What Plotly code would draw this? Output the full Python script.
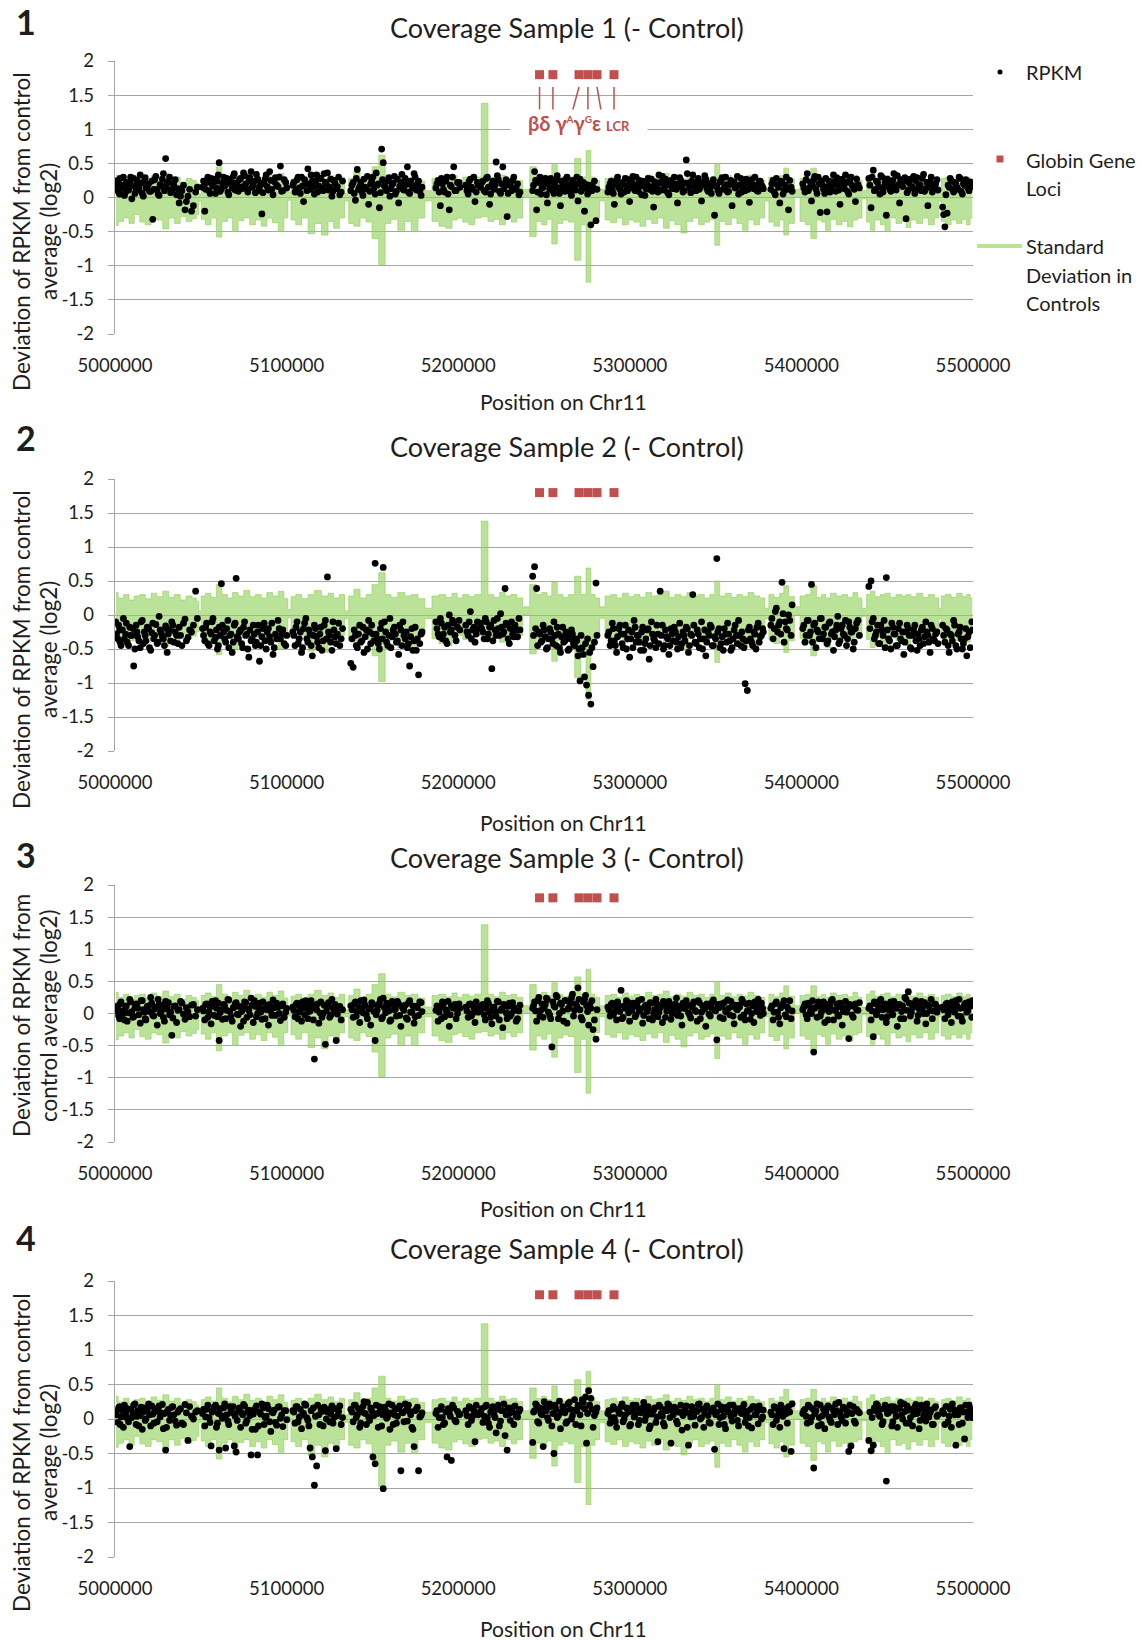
import plotly.graph_objects as go

W, H = 1144, 1641
FONT = "Lato"
TXT = "#1e1e1e"
GRID = "#A6A6A6"
RED = "#C0504D"
GREEN = "rgba(146,208,90,0.62)"

# ---------------- axis / text content ----------------
x_ticks = [5000000, 5100000, 5200000, 5300000, 5400000, 5500000]
x_tick_text = ["5000000", "5100000", "5200000", "5300000", "5400000", "5500000"]
y_ticks = [2, 1.5, 1, 0.5, 0, -0.5, -1, -1.5, -2]
y_tick_text = ["2", "1.5", "1", "0.5", "0", "-0.5", "-1", "-1.5", "-2"]
panel_numbers = ["1", "2", "3", "4"]
panel_titles = ["Coverage Sample 1 (- Control)", "Coverage Sample 2 (- Control)",
                "Coverage Sample 3 (- Control)", "Coverage Sample 4 (- Control)"]
y_title_lines = [("Deviation of RPKM from control", "average (log2)"),
                 ("Deviation of RPKM from control", "average (log2)"),
                 ("Deviation of RPKM from", "control average (log2)"),
                 ("Deviation of RPKM from control", "average (log2)")]
x_title = "Position on Chr11"

CHR_START = 5000000  # positions below are kb offsets from this coordinate

# ---------------- RPKM bins, set A: positions (kb offset), one row per captured block ----------------
pos_kb = [
    [0.4, 1.6, 2.7, 3.5, 4.9, 6.2, 7.1, 8.6, 9.8, 10.9, 12.3, 13.2, 14.7, 15.9, 17.1, 18.0, 19.6, 20.8, 22.0, 23.1,
     24.6, 25.7, 27.0, 28.2, 29.5, 30.4, 31.8, 33.1, 34.3, 35.9, 37.4, 39.0, 40.8, 42.5, 44.6, 47.0],
    [51.0, 52.3, 53.4, 54.8, 56.0, 57.1, 58.6, 59.7, 60.7, 62.0, 63.3, 64.5, 65.8, 66.9, 68.3, 69.5, 70.6, 71.9, 73.2, 74.4,
     75.5, 76.9, 78.0, 79.3, 80.6, 81.8, 83.1, 84.2, 85.6, 86.9, 88.1, 89.4, 90.8, 92.1, 93.5, 95.0, 96.4, 97.8, 99.5],
    [103.6, 104.9, 106.1, 107.4, 108.7, 109.9, 111.2, 112.4, 113.7, 115.0, 116.2, 117.5, 118.8, 120.0, 121.3, 122.6,
     123.8, 125.1, 126.4, 127.6, 128.9, 130.3, 131.8],
    [137.4, 138.8, 140.1, 141.2, 142.6, 143.9, 145.1, 146.5, 147.8, 149.0, 150.3, 151.6, 152.8, 154.1, 155.4, 156.3,
     157.7, 159.0, 160.2, 161.5, 162.8, 164.0, 165.3, 166.6, 167.8, 169.1, 170.4, 171.7, 173.0, 174.3, 175.6, 176.9, 178.4],
    [187.0, 188.3, 189.6, 190.8, 192.1, 193.5, 194.8, 196.0, 197.4, 198.8, 200.5],
    [204.4, 205.8, 207.1, 208.4, 209.8, 211.2],
    [213.1, 214.4, 215.8, 217.0, 218.3, 219.6, 220.9, 222.1, 223.4, 224.7, 226.0, 227.3, 228.5, 229.8, 231.1, 232.4,
     233.8, 235.4],
    [243.4, 244.5, 245.7, 247.0, 248.2, 249.5, 250.8, 252.0, 253.3, 254.6, 255.8, 257.1, 258.4, 259.6, 260.9, 262.2,
     263.4, 264.7, 266.0, 267.2, 268.5, 269.8, 271.0, 272.3, 273.6, 274.8, 276.0, 277.3, 278.6, 280.3],
    [287.2, 288.5, 289.8, 291.0, 292.3, 293.6, 294.9, 296.1, 297.4, 298.7, 299.9, 301.2, 302.5, 303.7, 305.0, 306.3,
     307.5, 308.8, 310.1, 311.3, 312.6, 313.9, 315.2, 316.4, 317.7, 319.0, 320.2, 321.5, 322.8, 324.0, 325.3, 326.6,
     327.8, 329.1, 330.4, 331.6, 332.9, 334.2, 335.5, 336.7, 338.0, 339.3, 340.5, 341.8, 343.1, 344.3, 345.6, 346.9,
     348.1, 349.4, 350.7, 352.0, 353.2, 354.5, 355.8, 357.0, 358.3, 359.6, 360.8, 362.1, 363.4, 364.7, 365.9, 367.2,
     368.5, 369.7, 371.0, 372.3, 373.5, 374.8, 376.1, 377.4],
    [382.2, 383.5, 384.8, 386.1, 387.4, 388.7, 389.9, 391.2, 392.5, 394.0],
    [400.8, 402.1, 403.4, 404.7, 405.9, 407.2, 408.5, 409.8, 411.0, 412.3, 413.6, 414.9, 416.1, 417.4, 418.7, 420.0,
     421.2, 422.5, 423.8, 425.1, 426.3, 427.6, 428.9, 430.2, 431.5, 433.0],
    [439.3, 440.6, 441.9, 443.1, 444.4, 445.7, 447.0, 448.2, 449.5, 450.8, 452.1, 453.3, 454.6, 455.9, 457.2, 458.4,
     459.7, 461.0, 462.3, 463.5, 464.8, 466.1, 467.4, 468.6, 469.9, 471.2, 472.5, 473.7, 475.0, 476.3, 477.6, 479.0],
    [482.3, 483.6, 484.9, 486.1, 487.4, 488.7, 490.0, 491.3, 492.5, 493.8, 495.1, 496.4, 497.7, 499.3],
]
# ---------------- RPKM bins, set B (bins lying between those of set A) ----------------
pos_kb_b = [
    [0.9, 2.1, 3.0, 4.3, 5.5, 6.6, 7.9, 9.1, 10.4, 11.6, 12.8, 13.9, 15.2, 16.5, 17.6, 18.8, 20.1, 21.4, 22.6, 23.8,
     25.1, 26.3, 27.6, 28.8, 30.0, 31.1, 32.4, 33.7, 35.1, 36.6, 38.2, 39.9, 41.6, 43.5, 45.7, 48.0],
    [51.6, 52.8, 54.1, 55.4, 56.6, 57.8, 59.1, 60.2, 61.3, 62.6, 63.9, 65.1, 66.3, 67.6, 68.9, 70.0, 71.2, 72.5, 73.8,
     74.9, 76.2, 77.4, 78.6, 79.9, 81.2, 82.4, 83.6, 84.9, 86.2, 87.5, 88.7, 90.1, 91.4, 92.8, 94.2, 95.7, 97.1, 98.6, 100.1],
    [104.2, 105.5, 106.7, 108.0, 109.3, 110.5, 111.8, 113.0, 114.3, 115.6, 116.8, 118.1, 119.4, 120.6, 121.9, 123.2,
     124.4, 125.7, 127.0, 128.2, 129.6, 131.0, 132.6],
    [138.1, 139.4, 140.6, 141.9, 143.2, 144.5, 145.8, 147.1, 148.4, 149.6, 150.9, 152.2, 153.4, 154.7, 155.9, 157.0,
     158.3, 159.6, 160.8, 162.1, 163.4, 164.6, 165.9, 167.2, 168.4, 169.7, 171.0, 172.3, 173.6, 174.9, 176.2, 177.6, 178.9],
    [187.6, 188.9, 190.2, 191.4, 192.8, 194.1, 195.4, 196.7, 198.1, 199.6, 201.0],
    [205.1, 206.4, 207.7, 209.1, 210.5, 211.6],
    [213.7, 215.1, 216.4, 217.6, 218.9, 220.2, 221.5, 222.8, 224.0, 225.3, 226.6, 227.9, 229.1, 230.4, 231.7, 233.1,
     234.6, 236.0],
    [243.9, 245.1, 246.3, 247.6, 248.8, 250.1, 251.4, 252.6, 253.9, 255.2, 256.4, 257.7, 259.0, 260.2, 261.5, 262.8,
     264.0, 265.3, 266.6, 267.8, 269.1, 270.4, 271.6, 272.9, 274.2, 275.4, 276.6, 277.9, 279.4, 280.9],
    [287.8, 289.1, 290.4, 291.6, 292.9, 294.2, 295.5, 296.7, 298.0, 299.3, 300.5, 301.8, 303.1, 304.3, 305.6, 306.9,
     308.1, 309.4, 310.7, 311.9, 313.2, 314.5, 315.8, 317.0, 318.3, 319.6, 320.8, 322.1, 323.4, 324.6, 325.9, 327.2,
     328.4, 329.7, 331.0, 332.2, 333.5, 334.8, 336.1, 337.3, 338.6, 339.9, 341.1, 342.4, 343.7, 344.9, 346.2, 347.5,
     348.7, 350.0, 351.3, 352.6, 353.8, 355.1, 356.4, 357.6, 358.9, 360.2, 361.4, 362.7, 364.0, 365.3, 366.5, 367.8,
     369.1, 370.3, 371.6, 372.9, 374.1, 375.4, 376.7, 377.8],
    [382.8, 384.1, 385.4, 386.7, 388.0, 389.3, 390.6, 391.8, 393.2, 394.6],
    [401.4, 402.7, 404.0, 405.3, 406.5, 407.8, 409.1, 410.4, 411.6, 412.9, 414.2, 415.5, 416.7, 418.0, 419.3, 420.6,
     421.8, 423.1, 424.4, 425.7, 426.9, 428.2, 429.5, 430.8, 432.2, 433.8],
    [439.9, 441.2, 442.5, 443.7, 445.0, 446.3, 447.6, 448.8, 450.1, 451.4, 452.7, 453.9, 455.2, 456.5, 457.8, 459.0,
     460.3, 461.6, 462.9, 464.1, 465.4, 466.7, 468.0, 469.2, 470.5, 471.8, 473.1, 474.3, 475.6, 476.9, 478.2, 479.6],
    [482.9, 484.2, 485.5, 486.7, 488.0, 489.3, 490.6, 491.9, 493.1, 494.4, 495.7, 497.0, 498.4, 499.7],
]

# deviation values, in hundredths of log2, same block layout as the position lists
rpkm_s1 = [
    [12, 25, 5, 18, 30, 8, 15, 22, -2, 28, 10, 19, 33, 6, 24, 14, 20, 9, -32, 26, 12, 3, 17, 35, 57, 22, 30, 11, 18, 4,
     -8, 10, -18, 2, -20, 8],
    [15, -20, 22, 10, 28, 17, 6, 24, 51, 13, 30, 19, 8, 26, 14, 35, 21, 9, 28, 16, 32, 12, 24, 38, 18, 7, 27, 15, -24, 20,
     33, 11, 25, 4, 29, 16, 46, 10, 22],
    [18, 8, 26, 14, 30, -6, 20, 42, 12, 24, 5, 33, 17, 28, 10, 22, 36, 15, 2, 25, 13, 30, 8],
    [10, 22, -4, 41, 16, 8, 27, 13, -10, 20, 30, 5, 18, -15, 71, 51, 14, 24, 2, 19, 31, 9, -8, 22, 12, 28, 45, 6, 17, 35,
     11, 24, 3],
    [14, 25, -12, 20, 8, 30, -18, 16, 45, 10, 22],
    [18, 5, 27, 12, -6, 22],
    [15, 24, 8, 30, -10, 19, 12, 52, 26, 6, 45, 17, -28, 22, 10, 30, 14, 4],
    [10, 38, -18, 22, 5, 15, 28, -8, 12, 20, 6, 25, 14, -12, 18, 9, 30, 16, 3, 22, 11, -5, 27, 13, -20, 19, 8, -40, 15, -34],
    [8, 20, 12, -10, 25, 15, 5, 18, 28, 10, -6, 22, 14, 30, 9, 17, 24, 3, 19, 12, 27, -14, 16, 8, 22, 31, 11, 18, 4, 25,
     13, 20, -8, 29, 15, 10, 55, 21, 7, 33, 16, 24, 12, -5, 19, 27, 9, 14, 22, -26, 17, 6, 25, 12, 30, 8, 19, -12, 23, 14,
     5, 28, 16, 10, 21, -7, 26, 13, 18, 9, 24, 15],
    [12, 25, 4, 18, -8, 22, 10, 30, -18, 15],
    [20, 8, 35, 14, -5, 26, 12, 30, -22, 18, 6, -21, 24, 15, 33, 9, 20, -10, 27, 13, 22, 5, 30, 16, -6, 19],
    [28, -15, 40, 12, 22, 5, 30, 16, -26, 20, 9, 25, 14, 32, -8, 18, 24, -31, 11, 27, 15, 6, 29, 19, 10, 34, 13, -12, 23, 8,
     17, 26],
    [-14, -43, -23, 15, 25, 8, 20, 12, 28, 5, 18, 24, 10, 16],
]
rpkm_s1_b = [
    [20, 8, 28, 14, 3, 22, 11, 30, 17, 6, 25, 13, 21, 2, 29, 16, 9, 24, 12, 31, 5, 19, 27, 10, 15, 23, 7, 20, 26, 13,
     2, 18, -6, 12, -12, 15],
    [24, 12, 30, 6, 19, 27, 14, 33, 9, 21, 17, 28, 4, 22, 31, 11, 18, 26, 13, 36, 20, 8, 29, 15, 24, 34, 10, 21, 7, 27,
     16, 38, 12, 23, 18, 30, 9, 26, 14],
    [22, 12, 30, 6, 17, 26, 10, 20, 33, 15, 24, 8, 28, 14, 35, 19, 11, 27, 9, 21, 16, 4, 24],
    [18, 6, 28, 12, 22, 3, 15, 31, 9, 24, 14, 36, 20, 7, 26, 17, 10, 29, 13, 21, 5, 27, 16, 34, 11, 19, 8, 24, 14, 30,
     20, 9, 15],
    [20, 8, 28, 12, 24, 5, 18, 30, 10, 22, 15],
    [10, 24, 15, 30, 8, 18],
    [22, 10, 28, 15, 5, 24, 18, 32, 9, 20, 13, 26, 6, 18, 25, 12, 20, 8],
    [18, 25, 8, 30, 14, 22, 4, 20, 28, 10, 17, 32, 6, 24, 12, 27, 19, 8, 25, 15, 30, 20, 9, 22, 14, 5, 18, 10, 24, 12],
    [15, 24, 6, 20, 30, 12, 22, 8, 17, 26, 14, 31, 10, 19, 25, 4, 21, 13, 28, 16, 9, 23, 18, 33, 11, 20, 27, 7, 22, 15,
     30, 12, 19, 25, 8, 21, 35, 14, 24, 18, 10, 28, 16, 22, 32, 13, 20, 6, 26, 17, 11, 23, 29, 15, 19, 9, 25, 20, 14, 31,
     18, 8, 22, 27, 12, 20, 16, 30, 10, 24, 18, 13],
    [20, 8, 28, 15, 24, 5, 18, 12, 25, 9],
    [14, 26, 10, 22, 18, 31, 6, 20, 24, 12, 28, 16, 8, 23, 19, 29, 11, 21, 15, 33, 9, 25, 18, 12, 27, 14],
    [18, 30, 10, 24, 15, 32, 8, 22, 27, 13, 20, 35, 11, 19, 26, 16, 29, 7, 21, 14, 31, 24, 12, 18, 28, 9, 22, 16, 30, 13,
     20, 11],
    [-25, 4, 18, 28, 12, 22, 15, 30, 9, 20, 26, 14, 23, 17],
]
rpkm_s2 = [
    [-10, -35, -22, -45, -5, -28, -40, -18, -30, -75, -15, -32, -48, -8, -25, -38, -20, -52, -12, -30, -42, -2, -27, -35,
     -16, -55, -22, -10, -40, -30, -18, -45, -6, -33, -25, 35],
    [-20, -38, -12, -45, -28, -5, -33, -50, -18, 46, -25, -40, -8, -30, -55, -15, 54, -35, -22, -48, -10, -28, -62, -38,
     -15, -45, -25, -68, -32, -12, -50, -20, -40, -58, -28, -8, -35, -22, -45],
    [-25, -45, -10, -35, -55, -20, -5, -40, -28, -60, -15, -32, -48, -18, -38, -8, 56, -30, -52, -22, -42, -12, -35],
    [-71, -77, -30, -48, -15, -38, -55, -22, -8, -42, -28, 76, -35, -50, -12, 70, -25, -45, -5, -32, -18, -40, -58, -22,
     -10, -35, -48, -75, -20, -38, -52, -88, -28],
    [-10, -28, -5, -35, -18, -42, 0, -22, -12, -38, -8],
    [-15, -30, 5, -22, -40, -10],
    [-12, -25, -5, -35, -18, -79, -8, -30, -20, 2, -28, 39, -15, -42, -10, -32, -22, -5],
    [57, 71, 39, -25, -40, -15, -32, -48, -20, -35, -10, -45, -28, -55, -18, -38, -30, -50, -22, -42, -35, -60, -97, -48,
     -91, -103, -118, -131, -76, 47],
    [-30, -45, -12, -38, -55, -20, -28, -48, -15, -35, -62, -25, -8, -40, -30, -52, -18, -42, -22, -65, -10, -35, -48, -28,
     35, -15, -45, -32, -58, -20, -38, -25, -50, -12, -42, -30, -18, -55, -28, 30, -40, -22, -48, -10, -35, -60, -25, -15,
     -45, -32, 83, -20, -42, -52, -28, -12, -38, -48, -22, -30, -8, -45, -35, -101, -111, -18, -40, -25, -50, -12, -32, -20],
    [-15, -35, 5, -25, -10, 48, -40, -20, 0, -30],
    [-20, -40, -8, -30, 45, -15, -48, -25, -5, -35, -18, -42, -12, -28, -52, -22, -2, -38, -15, -30, -45, -10, -25, -50,
     -20, -8],
    [42, 50, -5, -30, -15, -42, -22, -8, 55, -35, -50, -18, -28, -45, -12, -38, -58, -25, -20, -48, -30, -15, -52, -35,
     -22, -42, -10, -30, -55, -20, -38, -25],
    [-15, -40, -22, -55, -30, -8, -45, -28, -18, -50, -35, -60, -25, -10],
]
rpkm_s2_b = [
    [-28, -15, -40, -22, -35, -12, -45, -30, -20, -50, -25, -38, -10, -42, -30, -18, -48, -26, -35, -14, -40, -22, -32,
     -45, -20, -28, -38, -15, -25, -42, -30, -12, -38, -22, -15, -5],
    [-30, -18, -42, -25, -10, -38, -22, -45, -30, -15, -35, -20, -48, -28, -40, -12, -32, -25, -42, -18, -30, -50, -22,
     -35, -28, -40, -15, -45, -20, -38, -25, -32, -12, -48, -35, -20, -28, -42, -30],
    [-30, -18, -42, -25, -48, -12, -35, -22, -45, -30, -20, -40, -28, -52, -15, -35, -25, -40, -10, -32, -28, -45, -20],
    [-35, -22, -45, -28, -40, -18, -32, -50, -25, -15, -38, -28, -42, -20, -35, -10, -40, -30, -48, -22, -28, -38, -15,
     -45, -30, -25, -42, -32, -52, -18, -35, -42, -25],
    [-20, -32, -12, -28, -38, -15, -25, -8, -30, -18, -22],
    [-25, -10, -35, -18, -28, -20],
    [-20, -35, -10, -28, -15, -38, -22, -5, -30, -18, -25, -12, -35, -20, -28, -15, -32, -22],
    [-30, -20, -45, -28, -38, -22, -50, -35, -25, -42, -30, -18, -48, -32, -40, -25, -52, -35, -28, -45, -38, -50, -30,
     -58, -42, -35, -55, -48, -40, -30],
    [-25, -38, -20, -45, -32, -15, -42, -28, -50, -22, -35, -48, -18, -30, -40, -25, -52, -35, -20, -45, -28, -38, -15,
     -42, -30, -50, -22, -35, -45, -28, -18, -40, -32, -48, -25, -38, -20, -45, -30, -15, -42, -28, -35, -50, -22, -40,
     -30, -18, -45, -35, -25, -48, -32, -20, -40, -28, -52, -35, -15, -42, -30, -25, -48, -38, -22, -35, -45, -28, -18,
     -40, -30, -25],
    [-5, -20, 10, -15, -28, 2, -10, -22, -8, 15],
    [-15, -30, -8, -25, -40, -12, -22, -35, -5, -28, -18, -38, -10, -25, -32, -15, -42, -20, -28, -8, -35, -18, -25, -40,
     -12, -30],
    [-20, -10, -35, -25, -42, -15, -30, -48, -22, -38, -12, -28, -45, -20, -35, -25, -40, -15, -30, -50, -22, -38, -28,
     -45, -18, -32, -25, -40, -15, -35, -28, -42],
    [-30, -20, -45, -28, -38, -15, -50, -25, -35, -42, -20, -32, -48, -22],
]
rpkm_s3 = [
    [5, 12, -8, 18, 0, 10, -12, 22, 3, -5, 15, 8, -15, 20, 2, -10, 12, 25, -3, 7, -18, 14, 4, -6, 19, 9, -2, -34, 11, -14,
     6, 16, -9, 3, 13, -4],
    [8, -10, 15, 2, -16, 12, 20, -5, -42, 6, 14, -8, 22, 3, -12, 10, 17, -2, -20, 9, 18, -6, 5, 24, -14, 11, 0, 16, -9, 7,
     13, -18, 4, 21, -3, 10, -11, 15, 2],
    [10, -5, 16, 2, -12, 8, 20, -8, 4, 13, -71, 6, -15, 18, 0, -48, 11, -6, 22, 3, -42, 9, -10],
    [12, -6, 18, 3, -14, 9, 21, -2, 7, -18, 14, -42, 5, 16, -8, 24, 1, 10, -12, 19, 6, -4, 15, -20, 8, 13, -9, 20, 2, -15,
     11, -3, 17],
    [5, -12, 10, 18, -5, 2, -20, 12, 8, -8, 15],
    [10, -6, 15, 0, -14, 8],
    [6, 14, -10, 20, 2, -16, 10, -4, 18, 5, -22, 12, -8, 16, 0, 9, -12, 4],
    [8, 18, -12, 25, 5, -6, 14, 22, -2, -52, 12, 28, -8, 16, 4, 20, -15, 10, 24, -4, 15, 40, 6, -10, 22, 12, -18, 8, -25,
     -40],
    [10, -4, 16, 2, -10, 12, 36, -6, 8, 18, -12, 5, 14, -2, 20, 7, -15, 11, 3, -8, 16, 0, 22, -5, 9, -14, 13, 4, 19, -9,
     6, 15, -3, 11, -18, 8, 20, 1, -7, 14, 5, -12, 17, 2, 10, -20, 12, -4, 18, 6, -41, 9, 15, -8, 3, 21, -2, 11, -16, 7,
     13, -6, 18, -10, 4, 16, 0, -14, 10, 22, -3, 8],
    [8, -10, 15, 2, -16, 12, 20, -5, 6, -8],
    [6, 15, -8, 12, 0, -60, 10, 18, -4, 8, -14, 14, 3, 20, -10, 6, -2, 16, -18, 9, 2, -39, 12, -6, 15, 5],
    [8, -10, -36, 15, 4, 20, -6, 12, -14, 6, 18, -2, 10, -20, 14, 3, -8, 22, 34, -4, 11, 16, -12, 7, 19, 0, -16, 13, 5, -8,
     15, 2],
    [10, -8, 16, 4, -14, 12, 20, -4, 8, -12, 14, 2, 18, -6],
]
rpkm_s3_b = [
    [8, -3, 15, 4, -10, 12, 1, 18, -6, 9, 14, -2, 20, 6, -8, 11, 3, 16, -4, 10, 22, 0, 13, -12, 7, 17, 2, -7, 12, 5,
     19, -1, 9, -5, 14, 6],
    [4, 14, -6, 10, 19, -3, 8, 16, 1, -9, 12, 5, 21, -4, 9, 15, -1, 11, 3, -12, 17, 7, -2, 13, 20, -5, 10, 2, 18, -8,
     6, 14, -3, 9, 16, 0, 12, -6, 8],
    [5, 14, -8, 10, 18, -2, 12, 3, 20, -10, 8, 15, 1, -6, 13, 4, 17, -3, 9, 14, -1, 11, 6],
    [6, 15, -4, 10, 20, 1, 13, -8, 8, 17, 3, -2, 12, 22, -6, 9, 16, 4, -10, 14, 7, 19, -3, 11, 5, -7, 16, 2, 12, -5,
     9, 18, 3],
    [12, 2, -8, 15, 6, 19, -2, 9, 14, 0, 8],
    [4, 14, -4, 9, 18, 2],
    [12, -2, 8, 16, -6, 10, 3, 19, -10, 7, 14, 1, 11, -4, 17, 5, -8, 13],
    [12, 4, 20, -4, 15, 8, 24, 2, -8, 18, 10, 26, 0, 14, -12, 20, 7, 16, 30, 5, 12, 22, -6, 18, 28, 3, 14, 20, -10, 6],
    [6, 14, -2, 10, 18, 3, -8, 12, 20, 1, 9, 16, -5, 11, 4, 22, -3, 13, 8, 17, -10, 6, 15, 2, 12, 19, -6, 9, 14, 0,
     11, 24, 5, -4, 16, 8, 13, -2, 10, 18, 3, 20, -8, 12, 7, 15, -1, 9, 21, 4, 14, -6, 11, 17, 2, 8, 19, -4, 13, 6,
     10, 22, -2, 15, 5, -9, 12, 18, 3, 9, 16, 0],
    [12, 2, 18, -6, 9, 15, -2, 10, 20, 4],
    [10, -2, 16, 4, 20, 8, -6, 13, 2, 18, 7, -10, 12, 22, 5, 15, -4, 10, 3, 19, 8, 14, -2, 11, 6, 17],
    [12, 4, 18, -2, 10, 22, 6, 15, -5, 11, 3, 19, 8, 14, -8, 12, 25, 5, 16, 2, 10, 20, -3, 13, 7, 17, 0, 11, 22, 4,
     14, 9],
    [6, 14, -2, 10, 18, 2, 12, 22, -5, 9, 16, 4, 11, 20],
]
rpkm_s4 = [
    [10, -5, 18, 3, -12, 8, 15, -40, 2, 20, -8, 12, 5, -15, 16, 0, 22, -10, 7, 14, -4, 19, 9, -14, -45, 11, -2, 17, 6, -9,
     13, -6, 21, -31, 4, 10],
    [8, -10, 14, 2, -39, 12, 20, -6, -45, 5, 16, -42, -3, 18, 9, -39, -48, 11, -12, 6, 19, -2, 13, -52, 7, -15, -52, 10, 22,
     -8, 4, 15, -18, 9, -5, 17, 1, -11, 12],
    [12, -6, 18, 3, -14, 8, 20, -2, -42, -55, -96, -68, 6, 15, -10, -46, 10, -4, 19, 2, -43, 11, -8],
    [14, -4, 20, 6, -12, 10, 25, -8, 3, 16, -55, -65, 8, 18, -10, -101, 12, 4, -15, 20, 6, -6, 15, -75, 9, 22, -3, 11, -12,
     -40, 14, -75, 5],
    [8, -12, 14, 2, -6, -55, 10, -60, 16, -4, 6],
    [12, -8, 16, 4, -33, 9],
    [10, -5, 18, 2, -12, 14, 6, -20, 20, -3, 12, -24, -45, 8, 16, -8, 4, 11],
    [-34, 12, 20, -6, 8, -40, 16, 2, 22, -10, -50, 14, 5, -14, 18, 9, -4, 24, 0, 13, -8, 20, 6, 28, 15, -35, 41, 30, -12, 10],
    [8, -6, 14, 2, -12, 10, 18, -4, 6, 15, -10, 12, 3, 20, -8, 9, 16, -2, 11, -14, 7, 13, -5, -33, 18, 4, -10, 12, 20, -35,
     6, 15, -7, 10, -16, 8, 19, -38, 3, 14, -9, 11, 22, 2, -12, 16, 5, -6, 13, -44, 10, -8, 18, 4, -14, 12, 20, -3, 7, 15,
     -10, 9, 16, -5, 11, 2, -13, 18, 6, -7, 14, 3],
    [10, -8, 16, 4, -12, 12, -43, 8, 18, -47],
    [8, 14, -6, 18, 2, -71, 12, -10, 20, 5, -14, 16, 3, -5, 12, 22, -8, 10, -2, 15, 6, -47, -39, 18, -6, 11],
    [-31, -46, -38, 12, 20, 4, -8, 15, -90, 9, 18, -4, 11, -12, 16, 6, 22, -6, 13, 2, -10, 17, 8, -14, 20, 5, -3, 14, 9, -8,
     16, 4],
    [12, -8, 18, 4, -12, 14, -38, 6, 16, -6, -29, 10, 20, 2],
]
rpkm_s4_b = [
    [6, 16, -8, 12, 20, 2, -4, 14, 8, 22, 4, -10, 17, 10, -2, 13, 6, 19, -6, 11, 16, 3, 21, 8, -12, 14, 5, 18, -3, 10,
     15, -8, 9, 18, 0, 12],
    [14, 3, 20, -5, 10, 17, -12, 8, 15, 1, 22, 6, -8, 12, 18, 4, -2, 16, 9, 21, -6, 11, 5, -15, 14, 19, -10, 7, 16, 2,
     20, -4, 10, 13, -9, 18, 6, 12, -1],
    [10, 18, -4, 14, 6, 22, 2, -10, 12, 16, 4, 20, -8, 11, 17, 0, 14, 8, -6, 15, 5, 19, 2],
    [10, 20, 2, 15, -6, 18, 8, 24, -2, 12, 5, 20, -12, 14, 6, 17, 1, 22, 9, -8, 15, 4, 19, 10, -4, 13, 20, 6, -15, 12,
     17, 3, 9],
    [12, 2, 18, -8, 10, 15, 4, 20, -2, 11, 7],
    [5, 18, -2, 12, 20, 6],
    [15, 4, 20, -6, 10, 18, 2, 14, -10, 12, 22, 6, 16, -2, 10, 19, 3, 14],
    [10, 22, -4, 16, 6, 25, 12, -2, 18, 8, 20, 2, 26, 10, 15, -6, 22, 14, 5, 28, 12, 18, -10, 24, 32, 8, 20, 14, 5, 16],
    [12, 2, 18, -4, 14, 8, 22, 0, 16, 10, -8, 20, 6, 15, -2, 12, 24, 4, 18, -10, 10, 16, 3, 20, 8, -6, 14, 22, 2, 12,
     17, -3, 10, 20, 5, 15, -12, 9, 18, 4, 12, 21, 0, 14, 8, 19, -5, 11, 16, 6, 22, 2, 13, -8, 17, 10, 4, 20, 12, -2,
     15, 8, 21, 3, -10, 14, 18, 6, 11, 19, 0, 13],
    [6, 18, -2, 12, 20, 4, 15, -6, 10, 22],
    [12, 4, 20, -4, 15, 8, 22, 2, -8, 14, 10, 19, -2, 16, 6, 12, 24, 3, 17, -6, 11, 20, 8, -3, 14, 9],
    [10, 2, 16, 22, 6, 14, -4, 20, 8, 12, -10, 18, 4, 15, 24, 0, 11, 19, -6, 14, 7, 21, 12, -2, 16, 9, 22, 3, 13, -8,
     18, 6],
    [8, 18, -4, 14, 22, 6, 12, -8, 16, 10, 20, 2, 15, 8],
]
samples = [(rpkm_s1, rpkm_s1_b), (rpkm_s2, rpkm_s2_b), (rpkm_s3, rpkm_s3_b), (rpkm_s4, rpkm_s4_b)]

# ---------------- standard deviation in controls (same for every panel), hundredths ----------------
sd_pos_kb = [
    [0.5, 3.2, 6.8, 9.5, 12.9, 16.0, 19.4, 22.7, 26.1, 29.6, 33.0, 36.2, 39.8, 43.1, 46.5, 48.2, 49.5],
    [51.0, 54.3, 57.6, 60.6, 63.9, 67.1, 70.0, 73.4, 76.8, 80.2, 83.5, 86.9, 90.1, 93.4, 97.0, 99.8, 101.6],
    [103.6, 107.0, 110.4, 114.7, 118.0, 122.5, 125.8, 129.0, 132.5, 135.0],
    [137.4, 141.0, 144.6, 148.0, 151.6, 155.8, 159.0, 162.6, 167.0, 170.8, 174.5, 178.6, 182.5],
    [187.0, 190.5, 194.8, 198.0, 200.8, 204.5, 208.0, 211.2],
    [215.7, 219.0, 222.4, 225.8, 229.1, 232.5, 235.6, 239.5],
    [243.9, 247.0, 250.3, 253.1, 256.0, 259.4, 262.5, 265.8, 270.0, 273.0, 276.0, 278.6, 280.8, 284.0],
    [287.2, 290.6, 294.0, 297.5, 300.8, 304.2, 307.6, 311.0, 314.5, 317.9, 321.3, 324.6, 328.0, 331.6, 335.0, 338.4,
     341.8, 345.0, 348.3, 350.8, 354.0, 357.4, 360.8, 364.0, 367.2, 370.6, 374.0, 377.4, 379.8],
    [382.3, 385.7, 388.9, 390.6, 394.3, 397.5],
    [400.9, 404.0, 407.0, 410.5, 413.0, 415.2, 418.6, 422.0, 425.3, 428.5, 431.6, 434.0, 436.6],
    [439.4, 441.0, 444.5, 447.6, 450.0, 453.4, 456.8, 460.0, 462.0, 465.5, 468.9, 472.3, 475.6, 479.4, 480.8],
    [482.4, 485.6, 488.9, 492.0, 495.3, 497.0, 499.6],
]
sd_hi = [
    [33, 25, 30, 22, 28, 30, 24, 32, 27, 35, 26, 30, 22, 28, 25, 20, 5],
    [28, 32, 26, 45, 30, 25, 33, 28, 36, 27, 30, 25, 33, 28, 35, 24, 8],
    [27, 30, 24, 30, 36, 28, 32, 25, 30, 6],
    [28, 38, 25, 30, 45, 62, 30, 26, 33, 28, 30, 24, 10],
    [28, 30, 26, 32, 25, 30, 27, 30],
    [138, 30, 26, 33, 28, 30, 25, 12],
    [45, 30, 33, 28, 48, 30, 26, 30, 57, 30, 69, 30, 25, 12],
    [28, 30, 25, 32, 27, 30, 26, 33, 28, 30, 35, 26, 30, 27, 33, 28, 30, 25, 30, 50, 28, 32, 26, 30, 27, 33, 28, 25, 10],
    [30, 26, 32, 43, 27, 12],
    [28, 30, 43, 26, 30, 25, 32, 28, 30, 26, 33, 25, 10],
    [30, 35, 27, 30, 32, 26, 30, 28, 30, 27, 32, 26, 30, 25, 10],
    [28, 30, 26, 32, 27, 30, 25],
]
sd_lo = [
    [-41, -35, -30, -38, -25, -36, -40, -30, -33, -46, -30, -38, -28, -35, -31, -25, -5],
    [-32, -40, -30, -58, -35, -30, -50, -34, -30, -40, -33, -42, -30, -37, -50, -30, -4],
    [-33, -40, -30, -53, -38, -55, -35, -45, -30, -5],
    [-38, -42, -30, -36, -60, -98, -38, -32, -48, -35, -50, -30, -5],
    [-35, -42, -45, -33, -30, -36, -40, -30],
    [-28, -35, -32, -40, -30, -36, -30, 0],
    [-57, -35, -40, -32, -68, -38, -33, -36, -92, -40, -124, -38, -30, -5],
    [-33, -37, -30, -40, -33, -36, -42, -32, -38, -30, -45, -34, -40, -52, -35, -30, -40, -36, -32, -70, -35, -40, -30,
     -38, -48, -33, -40, -30, -5],
    [-36, -42, -33, -55, -38, 0],
    [-35, -40, -60, -33, -36, -48, -32, -40, -35, -43, -33, -30, -2],
    [-36, -48, -33, -40, -50, -30, -38, -35, -44, -33, -38, -30, -40, -30, -5],
    [-35, -40, -33, -38, -32, -40, -30],
]

# ---------------- globin gene loci ----------------
gene_names = ["β", "δ", "γA", "γG", "ε", "LCR"]
gene_pos = [5247400, 5255200, 5270400, 5275600, 5280900, 5290800]
gene_y = [1.8, 1.8, 1.8, 1.8, 1.8, 1.8]
gene_leader_dx = [0, 0, -4000, 0, 2500, 0]   # bottom end offset of each leader line (bp)
SUP = "<sup><span style='font-size:10px'>{}</span></sup>"
gene_label_text = ("<b>βδ γ" + SUP.format("A") + "γ" + SUP.format("G") +
                   "ε <span style='font-size:13px'>LCR</span></b>")

# ---------------- layout geometry (pixels) ----------------
PLOT_L, PLOT_R = 115, 973
panel_px = [(61, 334), (479, 751), (885, 1142), (1281, 1557)]
title_py = [27, 446, 857, 1248]
number_py = [21, 437, 854, 1237]
xtitle_py = [402, 822, 1208, 1628]
ytitle_py = [232, 650, 1016, 1453]


def px(x):
    return x / W


def py(y):
    return 1 - y / H


fig = go.Figure()
annotations = []
shapes = []
layout_axes = {}

# standard deviation band outline (bp / log2)
sd_x, sd_up, sd_dn = [], [], []
for cp, ch, cl in zip(sd_pos_kb, sd_hi, sd_lo):
    for p, h, l in zip(cp, ch, cl):
        sd_x.append(CHR_START + p * 1000)
        sd_up.append(h / 100)
        sd_dn.append(l / 100)

for i in range(4):
    xa = "x" if i == 0 else f"x{i+1}"
    ya = "y" if i == 0 else f"y{i+1}"
    top, bot = panel_px[i]

    # green standard deviation band
    fig.add_trace(go.Scatter(x=sd_x, y=sd_up, mode="lines", xaxis=xa, yaxis=ya,
                             line=dict(color=GREEN, width=1, shape="hvh"), showlegend=False,
                             hoverinfo="skip"))
    fig.add_trace(go.Scatter(x=sd_x, y=sd_dn, mode="lines", xaxis=xa, yaxis=ya, fill="tonexty",
                             fillcolor=GREEN, line=dict(color=GREEN, width=1, shape="hvh"), showlegend=False,
                             name="Standard Deviation in Controls", hoverinfo="skip"))

    # black RPKM points
    bx, by = [], []
    for pos_set, val_set in ((pos_kb, samples[i][0]), (pos_kb_b, samples[i][1])):
        for cp, cv in zip(pos_set, val_set):
            for p, v in zip(cp, cv):
                bx.append(CHR_START + p * 1000)
                by.append(v / 100)
    fig.add_trace(go.Scatter(x=bx, y=by, mode="markers", xaxis=xa, yaxis=ya,
                             marker=dict(color="black", size=6.8, line=dict(width=0)),
                             showlegend=False, name="RPKM"))

    # red globin loci
    fig.add_trace(go.Scatter(x=gene_pos, y=gene_y, mode="markers", xaxis=xa, yaxis=ya,
                             marker=dict(color=RED, symbol="square", size=9, line=dict(width=0)),
                             showlegend=False, name="Globin Gene Loci", text=gene_names))

    xkey = "xaxis" if i == 0 else f"xaxis{i+1}"
    ykey = "yaxis" if i == 0 else f"yaxis{i+1}"
    layout_axes[xkey] = dict(domain=[px(PLOT_L), px(PLOT_R)], range=[5000000, 5500000], anchor=ya,
                             tickvals=x_ticks, ticktext=x_tick_text, showgrid=False, zeroline=False,
                             showline=False, ticks="", ticklabelstandoff=18, automargin=False,
                             tickfont=dict(family=FONT, size=18.5, color=TXT))
    layout_axes[ykey] = dict(domain=[py(bot), py(top)], range=[-2, 2], anchor=xa,
                             tickvals=y_ticks, ticktext=y_tick_text, showgrid=True, gridcolor=GRID,
                             gridwidth=1.4, zeroline=False, showline=True, linecolor=GRID, linewidth=1.4,
                             ticks="outside", ticklen=6, tickcolor=GRID, tickwidth=1.4, automargin=False,
                             ticklabelstandoff=10, tickfont=dict(family=FONT, size=18.5, color=TXT))

    # texts
    annotations.append(dict(text=panel_titles[i], x=px(567), y=py(title_py[i]), xref="paper", yref="paper",
                            showarrow=False, xanchor="center", yanchor="middle",
                            font=dict(family=FONT, size=27, color=TXT)))
    annotations.append(dict(text="<b>" + panel_numbers[i] + "</b>", x=px(26), y=py(number_py[i]), xref="paper",
                            yref="paper", showarrow=False, xanchor="center", yanchor="middle",
                            font=dict(family=FONT, size=34, color=TXT)))
    annotations.append(dict(text=x_title, x=px(563), y=py(xtitle_py[i]), xref="paper", yref="paper",
                            showarrow=False, xanchor="center", yanchor="middle",
                            font=dict(family=FONT, size=21, color=TXT)))
    for line_text, lx in zip(y_title_lines[i], (21, 48)):
        annotations.append(dict(text=line_text, x=px(lx), y=py(ytitle_py[i]), xref="paper", yref="paper",
                                showarrow=False, xanchor="center", yanchor="middle", textangle=-90,
                                font=dict(family=FONT, size=22.5, color=TXT)))

# gene labels + leader lines on panel 1
annotations.append(dict(text=gene_label_text, x=5270500, y=1.09, xref="x", yref="y", showarrow=False,
                        xanchor="center", yanchor="middle", bgcolor="white", width=134, borderpad=1,
                        font=dict(family=FONT, size=20, color=RED)))
for gp, dx in zip(gene_pos, gene_leader_dx):
    shapes.append(dict(type="line", xref="x", yref="y", x0=gp, y0=1.62, x1=gp + dx, y1=1.25,
                       line=dict(color=RED, width=1.5)))

# legend (drawn by hand, right of panel 1)
shapes.append(dict(type="circle", xref="paper", yref="paper", x0=px(997.5), x1=px(1002.5),
                   y0=py(74.5), y1=py(69.5), fillcolor="black", line=dict(width=0)))
shapes.append(dict(type="rect", xref="paper", yref="paper", x0=px(996.5), x1=px(1003.5),
                   y0=py(162.5), y1=py(155.5), fillcolor=RED, line=dict(width=0)))
shapes.append(dict(type="line", xref="paper", yref="paper", x0=px(977), x1=px(1022),
                   y0=py(246), y1=py(246), line=dict(color=GREEN, width=4)))
legend_lines = [("RPKM", 72), ("Globin Gene", 160), ("Loci", 188),
                ("Standard", 246), ("Deviation in", 275), ("Controls", 303)]
for t, yy in legend_lines:
    annotations.append(dict(text=t, x=px(1024), y=py(yy), xref="paper", yref="paper", showarrow=False,
                            xanchor="left", yanchor="middle", font=dict(family=FONT, size=20, color=TXT)))

fig.update_layout(width=W, height=H, autosize=False, margin=dict(l=0, r=0, t=0, b=0),
                  paper_bgcolor="white", plot_bgcolor="white", showlegend=False,
                  annotations=annotations, shapes=shapes, font=dict(family=FONT, color=TXT),
                  **layout_axes)

fig.write_html("out.html", config={"displayModeBar": False},
               post_script="document.body.style.margin='0px';document.body.style.padding='0px';")
